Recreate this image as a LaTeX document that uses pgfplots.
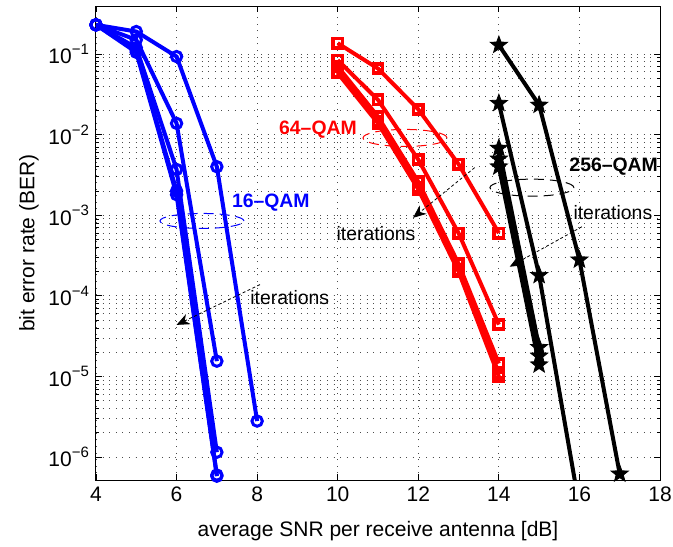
\documentclass[border=0pt]{standalone}
\usepackage{fontspec}
\setmainfont{Liberation Sans}
\usepackage{pgfplots}
\pgfplotsset{compat=1.18}
\usetikzlibrary{arrows.meta}
\pgfdeclareplotmark{fstar}{%
  \pgfpathmoveto{\pgfpointpolar{90}{\pgfplotmarksize}}%
  \pgfpathlineto{\pgfpointpolar{126}{0.42\pgfplotmarksize}}%
  \pgfpathlineto{\pgfpointpolar{162}{\pgfplotmarksize}}%
  \pgfpathlineto{\pgfpointpolar{198}{0.42\pgfplotmarksize}}%
  \pgfpathlineto{\pgfpointpolar{234}{\pgfplotmarksize}}%
  \pgfpathlineto{\pgfpointpolar{270}{0.42\pgfplotmarksize}}%
  \pgfpathlineto{\pgfpointpolar{306}{\pgfplotmarksize}}%
  \pgfpathlineto{\pgfpointpolar{342}{0.42\pgfplotmarksize}}%
  \pgfpathlineto{\pgfpointpolar{18}{\pgfplotmarksize}}%
  \pgfpathlineto{\pgfpointpolar{54}{0.42\pgfplotmarksize}}%
  \pgfpathclose\pgfusepathqfillstroke}
\newcommand{\dec}[1]{10\raisebox{0.85ex}{\fontsize{7.5}{8}\selectfont −#1}}
\begin{document}
\begin{tikzpicture}
\path[use as bounding box] (-48pt,-33pt) rectangle (288.5pt,240pt);
\begin{axis}[
  scale only axis, width=282pt, height=237pt,
  ymode=log, xmin=4, xmax=18, ymin=5.2e-7, ymax=0.394,
  xtick={4,6,...,18}, xticklabels={4,6,8,10,12,14,16,18},
  ytick={1e-6,1e-5,1e-4,1e-3,1e-2,1e-1},
  yticklabels={\dec{6},\dec{5},\dec{4},\dec{3},\dec{2},\dec{1}},
  xmajorgrids, ymajorgrids, yminorgrids,
  major grid style={black!70, line width=0.45pt, dash pattern=on 0.5pt off 2.8pt},
  minor grid style={black!70, line width=0.45pt, dash pattern=on 0.5pt off 2.8pt},
  tick align=inside, major tick length=3pt, minor tick length=1.6pt,
  tick style={black, line width=0.4pt},
  axis line style={line width=0.5pt},
  tick label style={font=\fontsize{10.5}{12}\selectfont},
  label style={font=\fontsize{10.5}{12}\selectfont},
  xlabel={average SNR per receive antenna [dB]},
  ylabel={bit error rate (BER)},
  xlabel style={yshift=-3pt},
  ylabel style={yshift=-2pt},
  every axis plot/.append style={line width=2pt},
]
% 16-QAM
\pgfplotsset{qam16/.style={blue, mark=o, mark size=2.6pt, mark options={solid, fill=white, line width=1.5pt}}}
\addplot[qam16] coordinates {(4,0.23) (5,0.19) (6,0.093) (7,0.0040) (8,2.8e-6)};
\addplot[qam16] coordinates {(4,0.23) (5,0.15) (6,0.0138) (7,1.55e-5)};
\addplot[qam16] coordinates {(4,0.23) (5,0.12) (6,0.0037) (7,1.15e-6)};
\addplot[qam16] coordinates {(4,0.23) (5,0.11) (6,0.0020) (7,6.0e-7)};
\addplot[qam16] coordinates {(4,0.23) (5,0.105) (6,0.0018) (7,5.8e-7)};
% 64-QAM
\pgfplotsset{qam64/.style={red, mark=square, mark size=2.3pt, mark options={solid, fill=white, line width=1.8pt}}}
\addplot[qam64] coordinates {(10,0.136) (11,0.066) (12,0.0206) (13,0.0043) (14,6.0e-4)};
\addplot[qam64] coordinates {(10,0.084) (11,0.027) (12,0.0049) (13,6.0e-4) (14,4.4e-5)};
\addplot[qam64] coordinates {(10,0.070) (11,0.0167) (12,0.0026) (13,2.5e-4) (14,1.45e-5)};
\addplot[qam64] coordinates {(10,0.060) (11,0.0145) (12,0.0022) (13,2.1e-4) (14,1.1e-5)};
\addplot[qam64] coordinates {(10,0.058) (11,0.0138) (12,0.0021) (13,2.0e-4) (14,1.0e-5)};
% 256-QAM
\pgfplotsset{qam256/.style={black, mark=fstar, mark size=4.5pt, mark options={solid, fill=black, line width=0.4pt}}}
\addplot[qam256] coordinates {(14,0.129) (15,0.0233) (16,2.8e-4) (17,6.2e-7)};
\addplot[qam256] coordinates {(14,0.0245) (15,1.8e-4) (16,2.4e-7)};
\addplot[qam256] coordinates {(14,0.0068) (15,2.3e-5)};
\addplot[qam256] coordinates {(14,0.0050) (15,1.8e-5)};
\addplot[qam256] coordinates {(14,0.0040) (15,1.4e-5)};
% annotations
\node[blue, font=\bfseries\fontsize{9.7}{11}\selectfont] at (axis cs:8.34,1.43e-3) {16--QAM};
\draw[blue, line width=0.5pt, dash pattern=on 5pt off 3pt] (axis cs:6.63,8.5e-4) ellipse [x radius=21pt, y radius=3.75pt];
\node[font=\fontsize{9.7}{11}\selectfont] at (axis cs:8.81,9.5e-5) {iterations};
\draw[line width=0.4pt, dash pattern=on 1.5pt off 1.2pt, -{Stealth[length=6.5pt, width=5.5pt, inset=2pt]}] (axis cs:8.07,1.38e-4) -- (axis cs:6.0,4.37e-5);
\node[red, font=\bfseries\fontsize{9.7}{11}\selectfont] at (axis cs:9.51,0.0115) {64--QAM};
\draw[red, line width=0.5pt, dash pattern=on 5pt off 3pt] (axis cs:11.67,9.1e-3) ellipse [x radius=21pt, y radius=4.25pt];
\node[font=\fontsize{9.7}{11}\selectfont] at (axis cs:10.95,6.0e-4) {iterations};
\draw[line width=0.4pt, dash pattern=on 1.5pt off 1.2pt, -{Stealth[length=6.5pt, width=5.5pt, inset=2pt]}] (axis cs:13.4,3.9e-3) -- (axis cs:11.87,9.3e-4);
\node[font=\bfseries\fontsize{9.7}{11}\selectfont] at (axis cs:16.85,4.0e-3) {256--QAM};
\draw[line width=0.5pt, dash pattern=on 5pt off 3pt] (axis cs:14.82,2.2e-3) ellipse [x radius=21pt, y radius=4.25pt];
\node[font=\fontsize{9.7}{11}\selectfont] at (axis cs:16.83,1.07e-3) {iterations};
\draw[line width=0.4pt, dash pattern=on 1.5pt off 1.2pt, -{Stealth[length=6.5pt, width=5.5pt, inset=2pt]}] (axis cs:16.06,7.2e-4) -- (axis cs:14.27,2.3e-4);
\end{axis}
\end{tikzpicture}
\end{document}
